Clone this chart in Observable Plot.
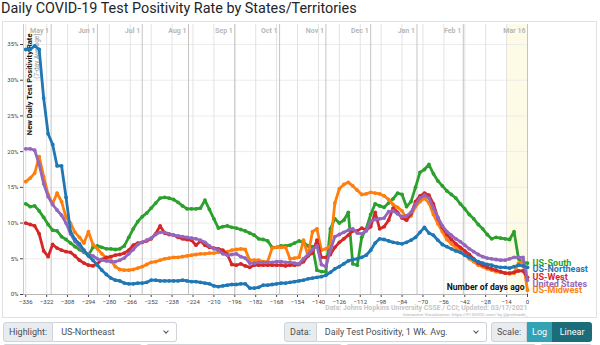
<!DOCTYPE html>
<html><head><meta charset="utf-8">
<script src="https://cdn.jsdelivr.net/npm/d3@7"></script>
<script src="https://cdn.jsdelivr.net/npm/@observablehq/plot@0.6"></script>
<style>
body{margin:0;width:600px;height:345px;overflow:hidden;background:#fff;font-family:Roboto,"Helvetica Neue",Arial,sans-serif;position:relative}
#title{position:absolute;left:1px;top:0px;font-size:14.4px;color:#212529;white-space:nowrap;line-height:17px}
#frame{position:absolute;left:2px;top:21px;width:595px;height:297px;border:1px solid #e2e2e2;box-sizing:border-box}
#chart{position:absolute;left:0;top:21px}
.grp{position:absolute;top:322px;height:20px;display:flex;font-size:9px;color:#495057}
.lab{background:#e9ecef;border:1px solid #ced4da;border-radius:3px 0 0 3px;padding:0 5px;line-height:18px;white-space:nowrap}
.sel{flex:1;border:1px solid #ced4da;border-left:none;border-radius:0 3px 3px 0;background:#fff;padding:0 8px;line-height:18px;position:relative;white-space:nowrap}
.chev{position:absolute;right:8px;top:6px;width:3px;height:3px;border-right:1px solid #555;border-bottom:1px solid #555;transform:rotate(45deg)}
.btn{color:#fff;line-height:20px;padding:0 5px}
.row2{position:absolute;top:344px;height:4px;border:1px solid #ced4da;border-bottom:none;border-radius:3px 3px 0 0}
</style></head>
<body>
<div id="title">Daily COVID-19 Test Positivity Rate by States/Territories</div>
<div id="frame"></div>
<div id="chart"></div>
<div class="grp" style="left:3px;width:174px"><div class="lab">Highlight:</div><div class="sel">US-Northeast<span class="chev"></span></div></div>
<div class="grp" style="left:284px;width:203px"><div class="lab">Data:</div><div class="sel">Daily Test Positivity, 1 Wk. Avg.<span class="chev"></span></div></div>
<div class="grp" style="left:491px;width:101px"><div class="lab" style="border-radius:3px 0 0 3px">Scale:</div><div class="btn" style="background:#33a2b5">Log</div><div class="btn" style="background:#1c6c79;border-radius:0 3px 3px 0;flex:1;text-align:center">Linear</div></div>
<div class="row2" style="left:3px;width:137px"></div>
<div class="row2" style="left:146px;width:194px"></div>
<div class="row2" style="left:346px;width:188px"></div>
<div class="row2" style="left:540px;width:50px"></div>
<script>
// days ago (x positions of the readings)
const days = [-336,-333,-330,-327,-324,-321,-318,-315,-312,-309,
-306,-303,-300,-297,-294,-291,-288,-285,-282,-279,
-276,-273,-270,-267,-264,-261,-258,-255,-252,-249,
-246,-243,-240,-237,-234,-231,-228,-225,-222,-219,
-216,-213,-210,-207,-204,-201,-198,-195,-192,-189,
-186,-183,-180,-177,-174,-171,-168,-165,-162,-159,
-156,-153,-150,-147,-144,-141,-138,-135,-132,-129,
-126,-123,-120,-117,-114,-111,-108,-105,-102,-99,
-96,-93,-90,-87,-84,-81,-78,-75,-72,-69,
-66,-63,-60,-57,-54,-51,-48,-45,-42,-39,
-36,-33,-30,-27,-24,-21,-18,-15,-12,-9,
-6,-3,0];

const northeast = [34.3,34.3,34.8,34.3,27.5,22.5,21.0,18.0,18.0,13.6,
8.8,7.7,7.1,6.2,5.4,4.8,4.1,3.4,2.8,2.3,
2.0,1.9,1.6,1.5,1.5,1.6,1.6,1.7,2.0,2.0,
1.9,1.9,1.9,1.9,1.9,2.0,1.9,1.8,1.8,1.7,
1.6,1.5,1.2,1.1,1.2,1.3,1.4,1.4,1.5,1.5,
0.9,0.9,1.0,1.3,1.3,1.4,1.5,1.6,1.6,1.7,
1.8,1.9,2.0,2.2,2.3,2.4,2.5,2.7,3.1,3.6,
3.9,4.3,4.7,4.9,5.0,5.2,5.5,6.2,7.2,7.8,
7.7,7.5,7.3,7.2,7.1,7.3,7.6,8.0,8.7,9.4,
8.6,8.3,7.6,7.0,6.7,6.4,6.1,5.9,5.5,5.2,
4.9,4.6,4.4,4.2,4.1,3.9,3.8,3.8,3.7,3.9,
4.1,4.0,3.8];

const midwest = [15.8,16.3,17.0,19.3,16.5,14.0,12.7,14.2,13.0,10.8,
10.0,8.7,8.0,7.2,8.8,7.0,6.4,5.7,5.1,4.8,
3.9,3.5,3.4,3.4,3.5,3.7,3.9,4.2,4.5,4.6,
4.8,5.0,5.1,5.2,5.2,5.3,5.4,5.5,5.6,5.7,
5.7,5.8,5.8,5.9,5.9,6.0,6.2,6.3,6.4,6.3,
4.8,4.8,4.8,4.6,4.6,6.5,6.6,6.6,6.6,5.0,
5.1,5.2,7.6,5.4,8.8,9.2,6.2,6.4,6.8,12.8,
14.8,15.4,15.7,15.2,14.6,14.0,14.1,14.3,14.2,14.1,
13.8,13.3,12.6,12.2,11.7,10.6,11.0,12.3,13.0,13.5,
12.8,11.2,9.9,8.8,7.7,7.1,6.6,6.1,5.6,5.0,
4.6,4.1,3.9,3.6,3.4,3.2,3.1,3.0,2.9,3.0,
4.4,4.6,0.6];

const south = [12.7,12.3,12.4,11.7,10.8,9.8,9.0,8.9,8.1,7.7,
7.2,6.7,6.3,5.9,5.5,6.6,6.8,6.6,6.4,6.4,
6.3,6.4,6.8,8.0,9.2,10.2,10.9,11.4,12.1,12.8,
13.5,13.6,13.5,13.3,12.9,12.4,12.0,12.0,12.0,12.1,
13.2,11.9,10.6,9.3,9.5,9.6,9.4,9.3,9.1,8.9,
8.6,8.3,7.8,7.7,7.5,6.6,6.6,6.8,6.8,6.9,
7.2,7.5,7.3,6.8,6.7,3.4,3.2,3.2,9.2,10.6,
10.0,10.4,11.5,4.3,4.1,8.0,9.2,11.2,12.7,12.4,
12.2,12.8,13.4,14.2,14.0,12.3,13.0,15.0,17.1,17.5,
18.2,16.9,15.9,15.2,14.5,14.0,13.5,12.7,12.0,11.2,
10.6,9.8,9.2,8.4,7.8,8.0,7.9,7.8,7.7,8.8,
5.0,4.5,4.4];

const west = [10.0,9.8,9.6,8.5,6.1,5.3,7.0,6.5,6.2,6.0,
5.9,5.4,4.8,4.4,4.1,4.0,4.3,4.9,5.2,5.3,
5.5,5.6,5.8,6.2,6.9,7.2,7.3,7.5,7.8,8.5,
9.6,8.6,8.4,8.3,8.0,7.8,7.7,7.6,6.9,7.5,
6.9,6.6,6.5,6.4,6.2,5.6,4.2,4.1,4.3,4.0,
3.8,4.1,4.1,4.1,4.1,4.1,4.1,4.1,4.0,4.1,
4.1,4.2,4.6,5.4,5.8,7.6,5.2,5.2,5.6,6.6,
7.3,7.8,8.3,8.9,8.9,9.3,9.0,9.5,11.5,9.2,
9.5,10.4,12.1,11.5,10.7,10.4,11.3,13.0,13.8,14.2,
13.9,12.7,10.7,9.4,8.4,7.7,7.1,6.6,6.1,5.6,
5.0,4.4,4.1,3.8,3.6,3.4,3.2,3.0,3.0,3.1,
3.3,3.3,2.4];

const unitedStates = [20.4,20.4,20.2,18.2,15.5,13.7,12.6,11.8,11.1,10.0,
8.5,7.4,6.7,6.0,5.6,5.4,5.0,4.8,4.7,4.6,
4.6,4.8,5.1,5.7,6.3,7.0,7.3,7.6,7.9,8.4,
8.7,8.7,8.5,8.3,8.2,8.1,8.0,7.9,7.8,7.6,
7.3,6.8,6.4,6.2,5.7,5.5,5.6,5.7,5.3,5.1,
4.4,4.4,4.5,4.5,4.5,4.5,4.6,4.6,4.5,4.5,
4.4,4.3,5.0,5.6,6.3,6.8,4.2,3.9,6.2,8.1,
8.4,8.7,9.0,9.2,8.6,8.5,8.9,10.3,10.5,10.6,
10.7,11.6,11.7,11.3,10.9,11.0,11.5,12.6,13.5,13.9,
13.5,12.1,10.8,9.6,8.8,8.3,7.8,7.4,6.9,6.4,
6.0,5.6,5.3,5.1,5.0,4.9,4.8,4.8,5.0,5.2,
5.2,5.2,2.0];

const seriesNames = ["US-South","US-Midwest","US-West","United States","US-Northeast"];
const seriesValues = [south, midwest, west, unitedStates, northeast];
const seriesColors = ["#2ca02c","#ff7f0e","#d62728","#9467bd","#1f77b4"];

const xTicks = [-336,-322,-308,-294,-280,-266,-252,-238,-224,-210,-196,-182,-168,-154,-140,-126,-112,-98,-84,-70,-56,-42,-28,-14,0];
const yTicks = [0,5,10,15,20,25,30,35];
const monthLabels = ["May 1","Jun 1","Jul 1","Aug 1","Sep 1","Oct 1","Nov 1","Dec 1","Jan 1","Feb 1","Mar 16"];
const monthDays = [-319,-288,-258,-227,-196,-166,-135,-105,-74,-43,0];
const highlightDays = [-14, 0];

const yTop = 37.8;
const series = seriesNames.map((name,i)=>({name, color: seriesColors[i],
  data: days.map((d,j)=>({d, v: seriesValues[i][j]}))}));

// end labels, dodged vertically
const ends = series.map(s=>({name:s.name,color:s.color,v:s.data[s.data.length-1].v}))
  .sort((a,b)=>b.v-a.v);
const gap = 0.9;
ends.forEach((e,i)=>{ e.ly = i===0 ? e.v : Math.min(e.v, ends[i-1].ly-gap); });

const marks = [
  Plot.rect([0],{x1:highlightDays[0],x2:highlightDays[1],y1:0,y2:yTop,fill:"#fdfbe6"}),
  Plot.ruleY(yTicks,{stroke:"#ececec",strokeWidth:1}),
  Plot.ruleX(xTicks,{y1:0,y2:yTop,stroke:"#e3e3e3",strokeWidth:1}),
  Plot.ruleX(monthDays,{y1:0,y2:yTop,stroke:"#c4c4c4",strokeWidth:1}),
  Plot.ruleY([0],{stroke:"#b5b5b5"}),
  Plot.ruleX([-337.5],{y1:0,y2:yTop,stroke:"#c8c8c8"}),
  Plot.text(monthLabels,{x:monthDays,frameAnchor:"top",textAnchor:"end",dx:-2,dy:4,fontSize:7,fontWeight:600,fill:"#b3b3b3"}),
  Plot.text(["New Daily Test Positivity Rate"],{frameAnchor:"top-left",rotate:-90,textAnchor:"end",dx:3.5,dy:9,fontSize:7.6,fontWeight:"bold",fill:"#111"}),
  Plot.text(["(7-day Average)"],{frameAnchor:"top-left",rotate:-90,textAnchor:"end",dx:11,dy:9,fontSize:6.5,fill:"#9a9a9a"}),
  Plot.text(["Number of days ago"],{frameAnchor:"bottom-right",textAnchor:"end",dx:-3,dy:-5,fontSize:8.6,fontWeight:"bold",fill:"#111"}),
  Plot.text(["Data: Johns Hopkins University CSSE / CCI; Updated: 03/17/2021"],{frameAnchor:"bottom-right",textAnchor:"end",dy:15,fontSize:6.9,fontWeight:"bold",fill:"#c6c6c6"}),
  Plot.text(["Interactive Visualization: https://91-DIVOC.com/ by @profwade_"],{frameAnchor:"bottom-right",textAnchor:"end",dy:21,fontSize:4.4,fill:"#b0b0b0"})
];
for (const s of series) {
  marks.push(Plot.line(s.data,{x:"d",y:"v",stroke:s.color,strokeWidth:2.8,curve:"linear"}));
  marks.push(Plot.dot(s.data,{x:"d",y:"v",r:1.9,fill:s.color}));
}
for (const e of ends) {
  marks.push(Plot.text([e],{x:()=>0,y:"ly",text:"name",fill:e.color,textAnchor:"start",dx:5,fontSize:9,fontWeight:"bold"}));
}

const chart = Plot.plot({
  width:600,height:297,
  marginLeft:23,marginRight:73,marginTop:3,marginBottom:24,
  style:{fontFamily:"Roboto, sans-serif",fontSize:"6px",background:"transparent",overflow:"visible",color:"#444"},
  x:{domain:[-337.5,0],ticks:xTicks,tickSize:3,tickPadding:2,label:null},
  y:{domain:[0,yTop],ticks:yTicks,tickSize:3,tickPadding:2,tickFormat:d=>d+"%",label:null},
  marks
});
document.getElementById("chart").appendChild(chart);
</script>
</body></html>
